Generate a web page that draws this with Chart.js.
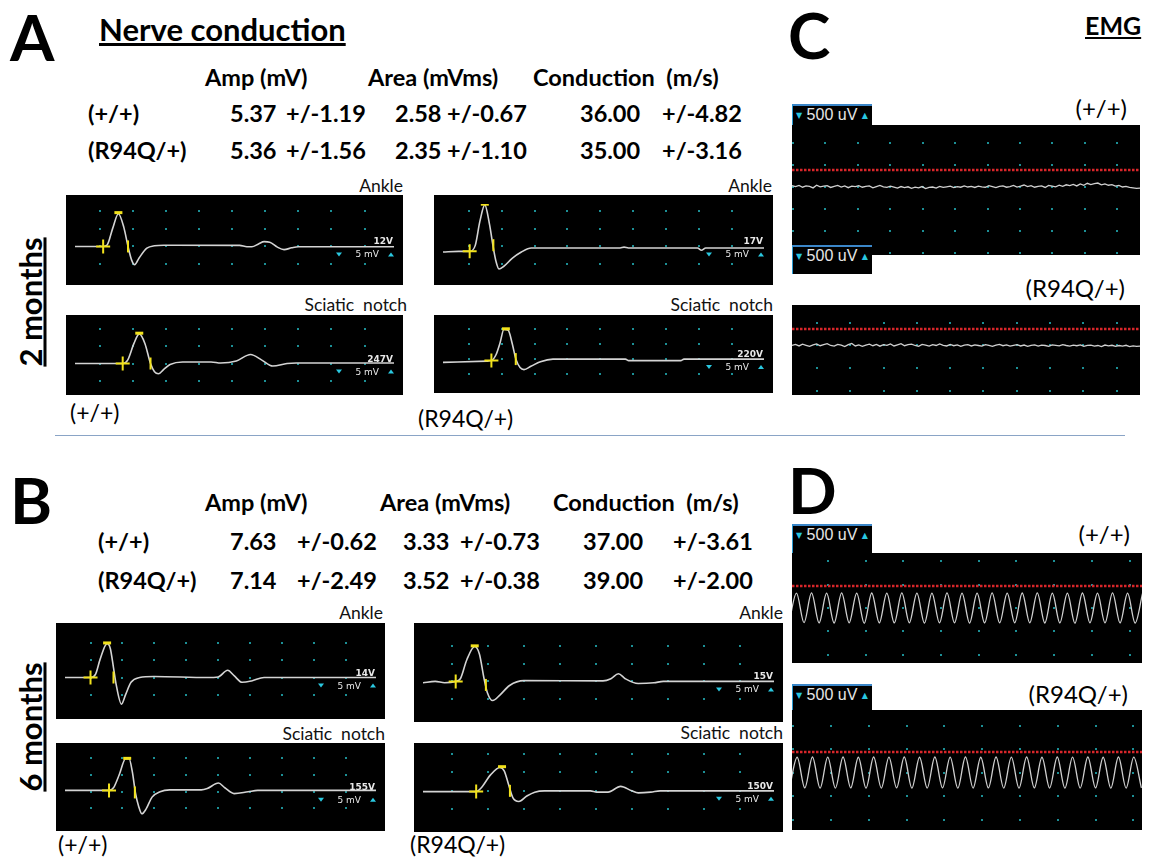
<!DOCTYPE html>
<html lang="en">

<head>
    <meta charset="UTF-8" />
    <title>Nerve conduction and EMG</title>
    <script src="https://cdn.jsdelivr.net/npm/chart.js"></script>
    <style>
        body { margin: 0; width: 1152px; height: 863px; background: #fff; position: relative; overflow: hidden;
               font-family: Lato, "Open Sans", sans-serif; color: #000; }
        .t { position: absolute; white-space: pre; line-height: 1; }
        .big { font-weight: bold; font-size: 64px; }
        .b20 { font-weight: bold; font-size: 23.5px; }
        .lab { font-size: 17.5px; color: #111; }
        .geno { font-size: 23px; }
        .emgl { font-size: 24px; }
        .vert { font-weight: bold; font-size: 31px; text-decoration: underline; transform: translate(-50%, -50%) rotate(-90deg); }
        .scope { position: absolute; }
        .uv { position: absolute; width: 80px; background: #000; border-top: 2px solid #3b86c8; border-left: 1px solid #2a9ad0;
              color: #e6e6e6; font: 16px "Liberation Sans", sans-serif; padding-left: 3px; box-sizing: border-box; line-height: 18px; z-index: 2; }
        .tri { color: #29c6e0; font: 8px "DejaVu Sans"; vertical-align: 2px; }
    </style>
</head>

<body>
    <!-- headings -->
    <div class="t big" style="left:10px;top:5px">A</div>
    <div class="t big" style="left:788px;top:3px">C</div>
    <div class="t big" style="left:10px;top:468px">B</div>
    <div class="t big" style="left:788px;top:458px">D</div>
    <div class="t" style="left:99px;top:14px;font-weight:bold;font-size:31px;text-decoration:underline">Nerve conduction</div>
    <div class="t" style="left:1085px;top:13px;font-weight:bold;font-size:25px;text-decoration:underline">EMG</div>
    <div class="t vert" style="left:30px;top:302px">2 months</div>
    <div class="t vert" style="left:30px;top:727px">6 months</div>

    <!-- 2 month table -->
    <div class="t b20" style="left:205px;top:66px">Amp (mV)</div>
    <div class="t b20" style="left:368px;top:66px">Area (mVms)</div>
    <div class="t b20" style="left:533px;top:66px">Conduction  (m/s)</div>
    <div class="t b20" style="left:88px;top:102px">(+/+)</div>
    <div class="t b20" style="left:230px;top:102px">5.37</div>
    <div class="t b20" style="left:286px;top:102px">+/-1.19</div>
    <div class="t b20" style="left:395px;top:102px">2.58</div>
    <div class="t b20" style="left:447px;top:102px">+/-0.67</div>
    <div class="t b20" style="left:580px;top:102px">36.00</div>
    <div class="t b20" style="left:662px;top:102px">+/-4.82</div>
    <div class="t b20" style="left:88px;top:139px">(R94Q/+)</div>
    <div class="t b20" style="left:230px;top:139px">5.36</div>
    <div class="t b20" style="left:286px;top:139px">+/-1.56</div>
    <div class="t b20" style="left:395px;top:139px">2.35</div>
    <div class="t b20" style="left:447px;top:139px">+/-1.10</div>
    <div class="t b20" style="left:580px;top:139px">35.00</div>
    <div class="t b20" style="left:662px;top:139px">+/-3.16</div>

    <!-- 6 month table -->
    <div class="t b20" style="left:205px;top:491px">Amp (mV)</div>
    <div class="t b20" style="left:380px;top:491px">Area (mVms)</div>
    <div class="t b20" style="left:553px;top:491px">Conduction  (m/s)</div>
    <div class="t b20" style="left:98px;top:530px">(+/+)</div>
    <div class="t b20" style="left:230px;top:530px">7.63</div>
    <div class="t b20" style="left:297px;top:530px">+/-0.62</div>
    <div class="t b20" style="left:403px;top:530px">3.33</div>
    <div class="t b20" style="left:460px;top:530px">+/-0.73</div>
    <div class="t b20" style="left:583px;top:530px">37.00</div>
    <div class="t b20" style="left:673px;top:530px">+/-3.61</div>
    <div class="t b20" style="left:98px;top:569px">(R94Q/+)</div>
    <div class="t b20" style="left:230px;top:569px">7.14</div>
    <div class="t b20" style="left:297px;top:569px">+/-2.49</div>
    <div class="t b20" style="left:403px;top:569px">3.52</div>
    <div class="t b20" style="left:460px;top:569px">+/-0.38</div>
    <div class="t b20" style="left:583px;top:569px">39.00</div>
    <div class="t b20" style="left:673px;top:569px">+/-2.00</div>

    <!-- site labels -->
    <div class="t lab" style="right:749px;top:177px">Ankle</div>
    <div class="t lab" style="right:380px;top:177px">Ankle</div>
    <div class="t lab" style="right:745px;top:296px">Sciatic  notch</div>
    <div class="t lab" style="right:379px;top:296px">Sciatic  notch</div>
    <div class="t lab" style="right:769px;top:604px">Ankle</div>
    <div class="t lab" style="right:369px;top:604px">Ankle</div>
    <div class="t lab" style="right:767px;top:725px">Sciatic  notch</div>
    <div class="t lab" style="right:369px;top:724px">Sciatic  notch</div>

    <div class="t geno" style="left:70px;top:401px">(+/+)</div>
    <div class="t geno" style="left:418px;top:407px">(R94Q/+)</div>
    <div class="t geno" style="left:58px;top:833px">(+/+)</div>
    <div class="t geno" style="left:410px;top:833px">(R94Q/+)</div>

    <div class="t emgl" style="right:25px;top:96px">(+/+)</div>
    <div class="t emgl" style="right:27px;top:276px">(R94Q/+)</div>
    <div class="t emgl" style="right:22px;top:522px">(+/+)</div>
    <div class="t emgl" style="right:24px;top:682px">(R94Q/+)</div>

    <div style="position:absolute;left:55px;top:435px;width:1070px;height:1px;background:#8aa4c6"></div>

    <div class="uv" style="left:792px;top:104px;height:21px"><span class="tri">▼</span> 500 uV <span class="tri">▲</span></div>
    <div class="uv" style="left:792px;top:245px;height:29px"><span class="tri">▼</span> 500 uV <span class="tri">▲</span></div>
    <div class="uv" style="left:792px;top:524px;height:29px"><span class="tri">▼</span> 500 uV <span class="tri">▲</span></div>
    <div class="uv" style="left:792px;top:684px;height:26px"><span class="tri">▼</span> 500 uV <span class="tri">▲</span></div>

    <script>
        // nerve conduction traces, [time (ms), amplitude (mV)]
        const a1Trace = [[-0.74, 0], [0.11, 0], [0.23, 0.4], [0.4, 5.2], [0.57, 9.3], [0.74, 5.2], [0.86, 0], [0.97, -3.9], [1.06, -5.2], [1.2, -3.2], [1.43, -0.5], [1.66, 0.2], [1.94, 0.35], [4.23, 0.3], [4.45, -0.1], [4.6, -0.1], [4.8, 0.7], [4.97, 1.35], [5.14, 1.2], [5.37, -0.2], [5.57, -0.9], [5.8, -0.4], [6.0, -0.1], [8.89, -0.1]];
        const a2Trace = [[-0.78, -1.6], [-0.3, -1.4], [0.03, -1.4], [0.2, 0.3], [0.34, 7.1], [0.49, 11.8], [0.63, 6.4], [0.75, -0.45], [0.83, -4.25], [0.92, -6.4], [1.06, -5.7], [1.32, -3.4], [1.6, -1.6], [1.9, -0.45], [4.6, -0.45], [4.72, -0.2], [4.85, -0.45], [6.95, -0.45], [7.07, -1.07], [7.2, -0.45], [8.97, -0.45]];
        const a3Trace = [[-0.74, 0], [0.7, 0], [0.85, 1.0], [1.04, 5.9], [1.2, 8.7], [1.37, 5.9], [1.54, 0], [1.66, -2.4], [1.78, -3.0], [1.94, -1.7], [2.13, -0.3], [2.51, 0.45], [3.37, 0.45], [3.66, 0.15], [4.13, 0.75], [4.56, 2.65], [4.9, 1.0], [5.23, -0.75], [5.66, 0], [5.94, 0.15], [8.89, 0.15]];
        const a4Trace = [[-0.78, -1.1], [0.55, -0.67], [0.69, -0.5], [0.83, 1.45], [0.95, 5.3], [1.07, 9.85], [1.2, 9.6], [1.32, 5.3], [1.44, -0.25], [1.56, -2.8], [1.68, -3.5], [1.89, -2.4], [2.18, -0.85], [2.56, 0], [4.76, 0], [4.86, -0.5], [6.44, -0.5], [6.54, 0], [8.97, 0]];
        const b1Trace = [[-0.8, 0], [0, 0], [0.16, 1.0], [0.3, 5.3], [0.52, 9.9], [0.62, 8.5], [0.72, 2.9], [0.8, -1.85], [0.97, -7.8], [1.1, -5.0], [1.27, -1.4], [1.54, 0], [1.99, 0.3], [3.66, 0], [4.0, 0.15], [4.3, 2.1], [4.5, 0.55], [4.75, -1.4], [5.05, -1.0], [5.44, 0], [8.95, 0]];
        const b2Trace = [[-0.82, -0.4], [-0.48, 0], [-0.22, -0.4], [0.09, 0], [0.22, 0.75], [0.4, 6.1], [0.62, 9.8], [0.75, 7.7], [0.88, 0.75], [0.97, -3.1], [1.12, -5.4], [1.32, -3.85], [1.59, -1.15], [1.99, 0.2], [4.19, 0.15], [4.41, 0.75], [4.62, 2.15], [4.81, 0.75], [5.17, -0.6], [5.61, -0.4], [5.87, 0], [8.95, 0]];
        const b3Trace = [[-0.8, 0.4], [0.58, 0.4], [0.72, 1.2], [0.9, 5.1], [1.1, 9.9], [1.21, 9.9], [1.31, 6.0], [1.41, -0.4], [1.51, -4.4], [1.61, -6.6], [1.74, -5.2], [1.93, -1.6], [2.18, 0], [2.48, 0.55], [3.47, 0.55], [3.66, 0.95], [4.01, 2.6], [4.21, 1.2], [4.5, -0.55], [4.94, 0], [5.24, 0.4], [8.95, 0.4]];
        const b4Trace = [[-0.82, -0.2], [0.66, -0.2], [0.79, 0.7], [1.06, 4.3], [1.32, 6.3], [1.44, 5.4], [1.57, 1.45], [1.68, -1.8], [1.85, -2.85], [2.07, -1.4], [2.29, -0.35], [2.56, 0], [3.84, 0], [4.02, -0.35], [4.33, -0.35], [4.68, 1.2], [4.99, 0], [5.17, -0.55], [5.52, -0.35], [5.78, 0], [8.95, 0]];

        // cursors: stimulus, negative peak, baseline crossing
        const a1Marks = [[0.11, 0], [0.57, 9.6], [0.86, 0]];
        const a2Marks = [[0.03, -1.4], [0.49, 12.0], [0.75, 0.35]];
        const a3Marks = [[0.7, 0], [1.2, 8.9], [1.54, 0]];
        const a4Marks = [[0.69, -0.5], [1.13, 10.1], [1.43, 0]];
        const b1Marks = [[0, 0], [0.52, 10.1], [0.72, 0]];
        const b2Marks = [[0.09, 0], [0.62, 10.0], [0.93, -1.0]];
        const b3Marks = [[0.58, 0.4], [1.15, 10.0], [1.39, -0.2]];
        const b4Marks = [[0.66, -0.2], [1.38, 6.5], [1.6, 0]];

        const stimVolts = ['12V', '17V', '247V', '220V', '14V', '15V', '155V', '150V'];

        // EMG sweeps (uV), one sample per step of the time base
        const c1Wt = [30, 10, 35, -5, 25, 15, -20, 40, 5, 20, 30, -10, 15, 35, 0, 25, -15, 20, 10, 30,
            -5, 15, 25, -20, 10, 35, 5, -10, 20, 0, -25, 10, -15, 5, -30, -5, -20, 10, -35, -10,
            0, -25, 15, -10, 5, 20, -15, 10, -5, 25, 0, 15, -10, 20, 5, -5, 30, 10, -15, 15,
            25, -5, 10, 35, 0, 20, 45, 10, 30, -5, 15, 25, -10, 35, 20, 5, 40, 15, 50, 30,
            60, 25, 70, 40, 85, 55, 75, 90, 50, 70, 40, 55, 20, 35, 0, 15, -10, -20, -30, -25];
        const c2Mut = [0, 25, -10, 30, 5, -20, 15, 35, -5, 20, 40, 0, -15, 25, 10, -25, 20, 45, -10, 15,
            -20, 10, 30, -5, 25, -15, 20, 5, 35, -10, 15, 40, -5, 20, 30, 0, -20, 25, 10, -15,
            20, 0, 35, 5, -10, 25, -5, 15, -20, 10, 20, -10, 15, 0, -15, 20, 5, -20, 10, 25,
            -5, 15, -15, 5, 20, -10, 10, -20, 5, 15, -15, 10, 0, -20, 15, 5, -10, 20, 0, -15,
            10, -5, 15, -20, 5, 10, -15, 0, -25, 10, -10, 5, -20, 0, -15, 5, -25, -10, -20, -15];
        const d1Wt = [-320, 320, -315, 325, -320, 318, -322, 325, -318, 320, -325, 322, -320, 318, -320, 325,
            -318, 320, -322, 320, -320, 325, -318, 320, -322, 318, -320, 325, -320, 320, -318, 322,
            -320, 325, -322, 318, -320, 320, -325, 322, -318, 320, -320, 325, -320, 318, -322, 320];
        const d2Mut = [-320, 335, -318, 340, -322, 338, -320, 340, -318, 335, -322, 340, -320, 338, -318, 340,
            -322, 335, -320, 340, -318, 338, -322, 340, -320, 335, -318, 340, -320, 338, -322, 340,
            -318, 335, -320, 340, -322, 338, -320, 340, -318, 335, -322, 340, -320, 338, -318];
        const emgThreshold = [386, 367, 472, 447];

        // panel placement and axis windows
        const nerveLayout = [
            { left: 66, top: 195, w: 337, h: 90, x: [-0.74, 8.89], y: [-8.4, 12.05] },
            { left: 434, top: 195, w: 339, h: 90, x: [-0.78, 8.97], y: [-8.4, 12.05] },
            { left: 66, top: 315, w: 337, h: 80, x: [-0.74, 8.89], y: [-6.6, 11.6] },
            { left: 434, top: 315, w: 339, h: 78, x: [-0.78, 8.97], y: [-8.3, 11.7] },
            { left: 56, top: 623, w: 329, h: 96, x: [-0.8, 8.95], y: [-9.5, 13.3] },
            { left: 414, top: 623, w: 369, h: 99, x: [-0.82, 8.95], y: [-8.9, 13.9] },
            { left: 56, top: 743, w: 329, h: 88, x: [-0.8, 8.95], y: [-9.05, 11.9] },
            { left: 414, top: 743, w: 369, h: 89, x: [-0.82, 8.95], y: [-8.65, 10.45] }
        ];
        const emgLayout = [
            { left: 792, top: 125, w: 348, h: 130, x: [-0.03, 10.7], y: [-1545, 1409], t0: -0.03, dt: 0.1084, smooth: false },
            { left: 792, top: 305, w: 348, h: 90, x: [-0.75, 9.7], y: [-1100, 900], t0: -0.75, dt: 0.1056, smooth: false },
            { left: 792, top: 553, w: 350, h: 110, x: [-0.95, 8.33], y: [-1180, 1180], t0: -1.03, dt: 0.1995, smooth: true },
            { left: 792, top: 710, w: 350, h: 120, x: [-0.03, 9.23], y: [-1213, 1340], t0: -0.096, dt: 0.2024, smooth: true }
        ];

        // black screen, teal dot graticule, sensitivity readout
        const scopePlugin = {
            id: 'scope',
            beforeDatasetsDraw(chart, args, o) {
                const { ctx, scales: { x, y } } = chart;
                ctx.save();
                ctx.fillStyle = '#000';
                ctx.fillRect(0, 0, chart.width, chart.height);
                ctx.fillStyle = '#1c8f95';
                for (let i = Math.ceil(x.min / o.xStep); i * o.xStep <= x.max; i++) {
                    for (let j = Math.ceil(y.min / o.yStep); j * o.yStep <= y.max; j++) {
                        const px = Math.round(x.getPixelForValue(i * o.xStep));
                        const py = Math.round(y.getPixelForValue(j * o.yStep));
                        ctx.fillRect(px - 1, py - 1, 2, 2);
                    }
                }
                ctx.restore();
            },
            afterDraw(chart, args, o) {
                if (!o.volts) return;
                const { ctx, chartArea: a, scales: { y } } = chart;
                const base = y.getPixelForValue(0);
                ctx.save();
                ctx.textAlign = 'right';
                ctx.fillStyle = '#e8e8e8';
                ctx.font = 'bold 9px "DejaVu Sans"';
                ctx.fillText(o.volts, a.right - 1, base - 2);
                ctx.font = '9px "DejaVu Sans"';
                ctx.fillText('5 mV', a.right - 15, base + 11);
                ctx.fillStyle = '#2ac8e0';
                const tri = (cx, cy, up) => {
                    ctx.beginPath();
                    ctx.moveTo(cx - 3, up ? cy + 2 : cy - 2);
                    ctx.lineTo(cx + 3, up ? cy + 2 : cy - 2);
                    ctx.lineTo(cx, up ? cy - 2 : cy + 2);
                    ctx.fill();
                };
                tri(a.right - 55, base + 8, false);
                tri(a.right - 3, base + 8, true);
                ctx.restore();
            }
        };

        function baseOptions(lay, plug) {
            return {
                responsive: false,
                animation: false,
                events: [],
                layout: { padding: 0 },
                plugins: { legend: { display: false }, tooltip: { enabled: false }, scope: plug },
                scales: {
                    x: { type: 'linear', display: false, min: lay.x[0], max: lay.x[1] },
                    y: { type: 'linear', display: false, min: lay.y[0], max: lay.y[1] }
                }
            };
        }

        function addCanvas(lay) {
            const c = document.createElement('canvas');
            c.className = 'scope';
            c.width = lay.w;
            c.height = lay.h;
            c.style.left = lay.left + 'px';
            c.style.top = lay.top + 'px';
            document.body.appendChild(c);
            return c;
        }

        const traces = [a1Trace, a2Trace, a3Trace, a4Trace, b1Trace, b2Trace, b3Trace, b4Trace];
        const marks = [a1Marks, a2Marks, a3Marks, a4Marks, b1Marks, b2Marks, b3Marks, b4Marks];

        nerveLayout.forEach((lay, k) => {
            new Chart(addCanvas(lay), {
                type: 'line',
                data: {
                    datasets: [{
                        data: marks[k].map(p => ({ x: p[0], y: p[1] })),
                        showLine: false,
                        pointStyle: ['cross', 'line', 'line'],
                        pointRotation: [0, 0, 90],
                        pointRadius: [7, 4, 6],
                        pointBorderWidth: [2, 3, 2],
                        pointBorderColor: '#f2e21c',
                        pointBackgroundColor: '#f2e21c'
                    }, {
                        data: traces[k].map(p => ({ x: p[0], y: p[1] })),
                        borderColor: '#d4d4d4',
                        borderWidth: 1.6,
                        pointRadius: 0,
                        cubicInterpolationMode: 'monotone'
                    }]
                },
                options: baseOptions(lay, { xStep: 1, yStep: 5, volts: stimVolts[k] }),
                plugins: [scopePlugin]
            });
        });

        const sweeps = [c1Wt, c2Mut, d1Wt, d2Mut];

        emgLayout.forEach((lay, k) => {
            new Chart(addCanvas(lay), {
                type: 'line',
                data: {
                    datasets: [{
                        data: [{ x: lay.x[0], y: emgThreshold[k] }, { x: lay.x[1], y: emgThreshold[k] }],
                        borderColor: '#d8262a',
                        borderWidth: 2.5,
                        borderDash: [2.5, 1.5],
                        pointRadius: 0
                    }, {
                        data: sweeps[k].map((v, i) => ({ x: lay.t0 + i * lay.dt, y: v })),
                        borderColor: '#d0d0d0',
                        borderWidth: 1.3,
                        pointRadius: 0,
                        cubicInterpolationMode: lay.smooth ? 'monotone' : 'default',
                        tension: 0
                    }]
                },
                options: baseOptions(lay, { xStep: 1, yStep: 500 }),
                plugins: [scopePlugin]
            });
        });
    </script>
</body>

</html>
